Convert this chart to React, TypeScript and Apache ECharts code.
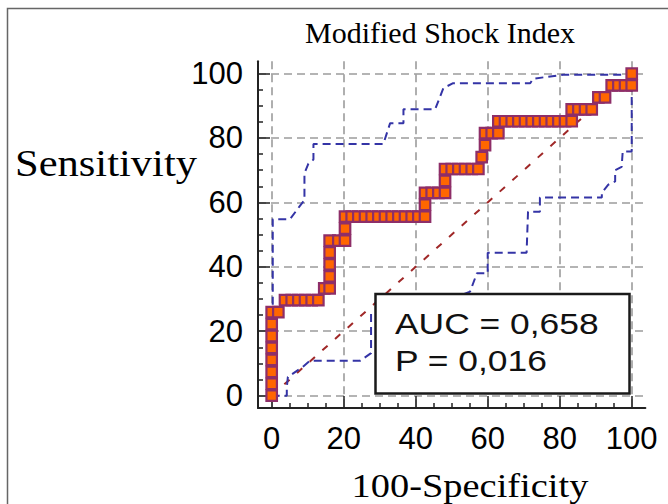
import React, { useEffect, useRef } from 'react';
import * as echarts from 'echarts';

// Axis tick values (both axes share the same 0..100 scale)
const majorTicks = [0, 20, 40, 60, 80, 100];
const minorTicks = [5, 10, 15, 25, 30, 35, 45, 50, 55, 65, 70, 75, 85, 90, 95];

// ROC curve points: [100-Specificity, Sensitivity]
const rocPoints: [number, number][] = [
  [0, 0], [0, 3.7], [0, 7.41], [0, 11.11], [0, 14.81], [0, 18.52], [0, 22.22], [0, 25.93], [1.85, 25.93],
  [3.7, 29.63], [5.56, 29.63], [7.41, 29.63], [9.26, 29.63], [11.11, 29.63], [12.96, 29.63],
  [14.6, 33.33], [16.1, 33.33],
  [16.1, 37.04], [16.1, 40.74], [16.1, 44.44], [16.1, 48.15], [18.52, 48.15], [20.37, 48.15],
  [20.37, 51.85], [20.37, 55.56], [22.22, 55.56], [24.07, 55.56], [25.93, 55.56], [27.78, 55.56],
  [29.63, 55.56], [31.48, 55.56], [33.33, 55.56], [35.19, 55.56], [37.04, 55.56], [38.89, 55.56],
  [40.74, 55.56], [42.59, 55.56],
  [42.59, 59.26], [42.59, 62.96], [44.44, 62.96], [46.3, 62.96], [48.15, 62.96],
  [48.15, 66.67], [48.15, 70.37], [50, 70.37], [51.85, 70.37], [53.7, 70.37], [55.56, 70.37], [57.41, 70.37],
  [58.33, 74.07], [59.26, 77.78], [59.26, 81.48], [61.11, 81.48], [62.96, 81.48],
  [62.96, 85.19], [64.81, 85.19], [66.67, 85.19], [68.52, 85.19], [70.37, 85.19], [72.22, 85.19],
  [74.07, 85.19], [75.93, 85.19], [77.78, 85.19], [79.63, 85.19], [81.48, 85.19], [83.33, 85.19],
  [83.33, 88.89], [85.19, 88.89], [87.04, 88.89], [88.89, 88.89],
  [90.74, 92.59], [92.59, 92.59],
  [94.44, 96.3], [96.3, 96.3], [98.15, 96.3], [100, 96.3],
  [100, 100],
];

// Upper 95% confidence bound
const upperCI: [number, number][] = [
  [0.3, 0], [0.3, 54.8], [5.1, 54.8], [7.9, 59], [9.1, 60.7], [9.1, 69], [10.2, 72], [11.6, 73.3],
  [11.6, 78.1], [31, 78.1], [32.9, 84.6], [36.6, 84.6], [36.6, 88.9], [45.4, 88.9], [47.7, 95.5],
  [50.4, 97], [71.8, 97], [72.6, 98.4], [81, 99.6], [98.7, 99.6], [100, 100],
];

// Lower 95% confidence bound
const lowerCI: [number, number][] = [
  [0, 0], [4.2, 0], [4.2, 2.7], [4.5, 5.8], [8.7, 9], [10.6, 10.8], [24.5, 10.8], [27.6, 13.2],
  [27.6, 25.7], [30, 25.7], [40, 27], [50, 30], [55.1, 32.3], [57, 38], [60, 38], [60, 44.4],
  [70.8, 44.4], [71.2, 57.1], [74.5, 57.1], [74.5, 61.5], [91.7, 61.5], [91.7, 63], [93.5, 65.5],
  [95.4, 66.5], [95.4, 70], [97.2, 71], [97.5, 75.8], [100, 75.8], [100, 100],
];

// Reference (chance) line
const chanceLine: [number, number][] = [[0, 0], [100, 100]];

const titleText = 'Modified Shock Index';
const yName = 'Sensitivity';
const xName = '100-Specificity';
const statLines = ['AUC = 0,658', 'P = 0,016'];

const AXIS_MIN = -3.8;
const AXIS_MAX = 103.8;

export default function App() {
  const ref = useRef<HTMLDivElement>(null);

  useEffect(() => {
    if (!ref.current) return;
    const chart = echarts.init(ref.current, null, { renderer: 'svg' });

    const mainAxis = (position: string) => ({
      type: 'value',
      min: AXIS_MIN,
      max: AXIS_MAX,
      position,
      axisLine: { show: true, onZero: false, lineStyle: { color: '#222', width: 2 } },
      axisTick: {
        show: true,
        inside: true,
        length: 12,
        customValues: majorTicks,
        lineStyle: { color: '#222', width: 1.5 },
      },
      axisLabel: {
        show: true,
        customValues: majorTicks,
        margin: 15,
        fontSize: 31,
        fontFamily: 'Liberation Sans',
        color: '#000',
      },
      splitLine: { show: true, lineStyle: { color: '#9c9c9c', width: 1.6, type: [8, 5] } },
      minorTick: { show: false },
    });

    const minorAxis = (position: string) => ({
      type: 'value',
      min: AXIS_MIN,
      max: AXIS_MAX,
      position,
      axisLine: { show: false, onZero: false },
      axisTick: {
        show: true,
        inside: true,
        length: 5,
        customValues: minorTicks,
        lineStyle: { color: '#222', width: 1.5 },
      },
      axisLabel: { show: false },
      splitLine: { show: false },
    });

    chart.setOption({
      animation: false,
      backgroundColor: '#fff',
      grid: { left: 258, top: 61.3, width: 387.4, height: 346.6, outerBoundsMode: 'none' },
      xAxis: [mainAxis('bottom'), minorAxis('bottom')],
      yAxis: [mainAxis('left'), minorAxis('left')],
      series: [
        {
          type: 'line',
          data: chanceLine,
          symbol: 'none',
          lineStyle: { color: '#a02828', width: 2, type: [7, 10] },
          z: 2,
        },
        {
          type: 'line',
          data: upperCI,
          symbol: 'none',
          lineStyle: { color: '#3434a6', width: 2, type: [8, 5] },
          z: 3,
        },
        {
          type: 'line',
          data: lowerCI,
          symbol: 'none',
          lineStyle: { color: '#3434a6', width: 2, type: [8, 5] },
          z: 3,
        },
        {
          type: 'line',
          data: rocPoints,
          symbol: 'rect',
          symbolSize: 10.5,
          showAllSymbol: true,
          lineStyle: { color: '#5a4aa0', width: 1.6 },
          itemStyle: { color: '#ff6600', borderColor: '#8e2e68', borderWidth: 2.2 },
          z: 4,
        },
      ],
      graphic: [
        {
          type: 'rect',
          z: 100,
          shape: { x: 7.5, y: 8.5, width: 700, height: 600 },
          style: { fill: 'none', stroke: '#666', lineWidth: 1.5 },
        },
        {
          type: 'text',
          z: 100,
          x: 440,
          y: 32,
          style: {
            text: titleText,
            fontSize: 30,
            fontFamily: 'Liberation Serif',
            fill: '#000',
            align: 'center',
            verticalAlign: 'middle',
          },
        },
        {
          type: 'text',
          z: 100,
          x: 15,
          y: 163.5,
          scaleX: 1.12,
          style: {
            text: yName,
            fontSize: 38,
            fontFamily: 'Liberation Serif',
            fill: '#000',
            align: 'left',
            verticalAlign: 'middle',
          },
        },
        {
          type: 'text',
          z: 100,
          x: 470,
          y: 485.5,
          scaleX: 1.13,
          style: {
            text: xName,
            fontSize: 34,
            fontFamily: 'Liberation Serif',
            fill: '#000',
            align: 'center',
            verticalAlign: 'middle',
          },
        },
        {
          type: 'rect',
          z: 100,
          shape: { x: 375.5, y: 294, width: 254, height: 99.5 },
          style: { fill: '#fff', stroke: '#1a1a1a', lineWidth: 2.5 },
        },
        {
          type: 'text',
          z: 101,
          x: 395,
          y: 323,
          scaleX: 1.18,
          style: {
            text: statLines[0],
            fontSize: 30,
            fontFamily: 'Liberation Sans',
            fill: '#111',
            align: 'left',
            verticalAlign: 'middle',
          },
        },
        {
          type: 'text',
          z: 101,
          x: 395,
          y: 360.5,
          scaleX: 1.18,
          style: {
            text: statLines[1],
            fontSize: 30,
            fontFamily: 'Liberation Sans',
            fill: '#111',
            align: 'left',
            verticalAlign: 'middle',
          },
        },
      ],
    });

    return () => chart.dispose();
  }, []);

  return (
    <div
      ref={ref}
      style={{ position: 'absolute', left: 0, top: 0, width: 668, height: 504, background: '#fff' }}
    />
  );
}
